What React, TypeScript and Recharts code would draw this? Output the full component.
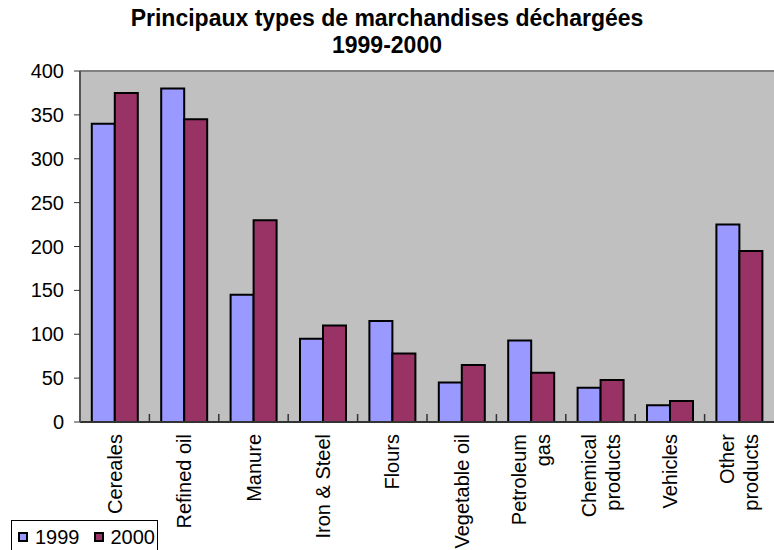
import { Bar, BarChart, CartesianGrid, Legend, ReferenceLine, XAxis, YAxis } from 'recharts';

const categories = [
  'Cereales',
  'Refined oil',
  'Manure',
  'Iron & Steel',
  'Flours',
  'Vegetable oil',
  'Petroleum\ngas',
  'Chemical\nproducts',
  'Vehicles',
  'Other\nproducts',
];
const values1999 = [340, 380, 145, 95, 115, 45, 93, 39, 19, 225];
const values2000 = [375, 345, 230, 110, 78, 65, 56, 48, 24, 195];
const yTicks = [0, 50, 100, 150, 200, 250, 300, 350, 400];

const data = categories.map((name, i) => ({
  name,
  y1999: values1999[i],
  y2000: values2000[i],
}));

const FONT = '"Liberation Sans", Arial, sans-serif';
const COLOR_1999 = '#9999FF';
const COLOR_2000 = '#993366';
const X_TICK_SIZE = 6;
const X_TICK_MARGIN = 2;

// rotated category label (multi-line names centred on the tick),
// plus the short inward tick on the band's left edge
const CategoryTick = ({ x, y, payload }: any) => {
  const lines = String(payload.value).split('\n');
  const lineHeight = 24;
  const axisY = y - X_TICK_SIZE - X_TICK_MARGIN;
  const half = payload.offset || 0;
  return (
    <g>
      {payload.index > 0 && half > 0 && (
        <line x1={x - half} x2={x - half} y1={axisY} y2={axisY - 8} stroke="#333" strokeWidth={1.5} />
      )}
      <text
        transform={`translate(${x},${y + 4}) rotate(-90)`}
        textAnchor="end"
        fontFamily={FONT}
        fontSize={20}
        fill="#000"
      >
        {lines.map((line, i) => (
          <tspan key={i} x={0} y={7 + (i - (lines.length - 1) / 2) * lineHeight}>
            {line}
          </tspan>
        ))}
      </text>
    </g>
  );
};

const LegendBox = () => (
  <div
    style={{
      border: '1px solid #000',
      background: '#fff',
      width: 147,
      height: 34,
      boxSizing: 'border-box',
      display: 'flex',
      alignItems: 'flex-start',
      paddingTop: 4,
      paddingLeft: 6,
      fontFamily: FONT,
      fontSize: 20,
      lineHeight: '24px',
      color: '#000',
    }}
  >
    {[
      { label: '1999', color: COLOR_1999 },
      { label: '2000', color: COLOR_2000 },
    ].map((item) => (
      <span key={item.label} style={{ display: 'flex', alignItems: 'center', marginRight: 14 }}>
        <span
          style={{
            display: 'inline-block',
            width: 6,
            height: 6,
            border: '2px solid #000',
            background: item.color,
            marginRight: 7,
          }}
        />
        {item.label}
      </span>
    ))}
  </div>
);

export default function App() {
  return (
    <div style={{ position: 'absolute', left: 0, top: 0, width: 774, height: 550, background: '#fff', overflow: 'hidden' }}>
      <div
        style={{
          position: 'absolute',
          left: 0,
          top: 5,
          width: 774,
          textAlign: 'center',
          fontFamily: FONT,
          fontWeight: 'bold',
          fontSize: 23,
          lineHeight: '27px',
          color: '#000',
        }}
      >
        Principaux types de marchandises déchargées
        <br />
        1999-2000
      </div>
      <BarChart
        width={774}
        height={550}
        data={data}
        margin={{ top: 71, right: 0, bottom: 0, left: 0 }}
        barCategoryGap="17%"
        barGap={0}
      >
        <CartesianGrid fill="#C0C0C0" horizontal={false} vertical={false} />
        <XAxis
          dataKey="name"
          height={128}
          interval={0}
          tick={<CategoryTick />}
          tickSize={X_TICK_SIZE}
          tickMargin={X_TICK_MARGIN}
          tickLine={false}
          axisLine={{ stroke: '#333', strokeWidth: 2 }}
        />
        <YAxis
          width={80}
          domain={[0, 400]}
          ticks={yTicks}
          interval={0}
          tickSize={6}
          tickMargin={10}
          tick={{ fontFamily: FONT, fontSize: 20, fill: '#000' }}
          tickLine={{ stroke: '#333' }}
          axisLine={{ stroke: '#555', strokeWidth: 2 }}
        />
        <ReferenceLine y={400} stroke="#808080" strokeWidth={2} />
        <Legend
          layout="horizontal"
          verticalAlign="middle"
          align="center"
          content={<LegendBox />}
          wrapperStyle={{ position: 'absolute', left: 11, top: 520, width: 147 }}
        />
        <Bar dataKey="y1999" name="1999" fill={COLOR_1999} stroke="#000" strokeWidth={2} isAnimationActive={false} />
        <Bar dataKey="y2000" name="2000" fill={COLOR_2000} stroke="#000" strokeWidth={2} isAnimationActive={false} />
      </BarChart>
    </div>
  );
}
